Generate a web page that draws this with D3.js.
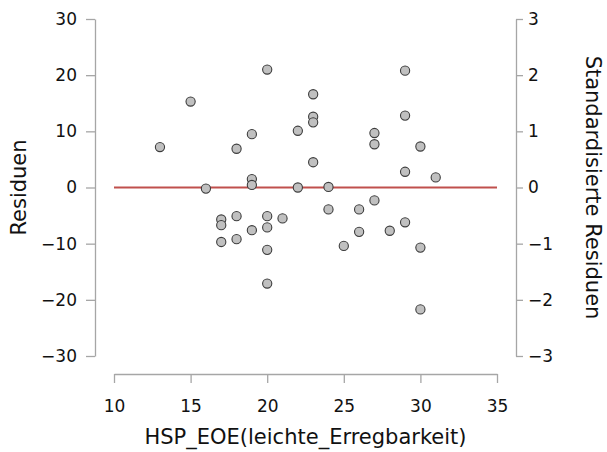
<!DOCTYPE html>
<html>
<head>
<meta charset="utf-8">
<script src="https://cdn.jsdelivr.net/npm/d3@7"></script>
<style>
  body { margin: 0; background: #fff; }
  text { font-family: "DejaVu Sans", sans-serif; fill: #111; }
</style>
</head>
<body>
<svg id="chart" width="607" height="452"></svg>
<script>
// data: x value (HSP_EOE) and residual
let xs = [13, 15, 16, 17, 17, 17, 18, 18, 18, 19, 19, 19, 19,
          20, 20, 20, 20, 20, 21, 22, 22, 23, 23, 23, 23, 24, 24,
          25, 26, 26, 27, 27, 27, 28, 29, 29, 29, 29, 30, 30, 30, 31];
let residuals = [7.2, 15.3, -0.2, -5.7, -6.7, -9.7, 6.9, -5.1, -9.2, 9.5, 1.5, 0.45, -7.6,
                 21.0, -5.1, -7.1, -11.1, -17.1, -5.5, 10.1, 0.0, 16.6, 12.6, 11.6, 4.5, 0.1, -3.9,
                 -10.4, -3.9, -7.9, 9.7, 7.7, -2.3, -7.7, 20.8, 12.8, 2.8, -6.2, 7.3, -10.7, -21.7, 1.8];
let xTicks = [10, 15, 20, 25, 30, 35];
let yTicks = [-30, -20, -10, 0, 10, 20, 30];
let zTicks = [-3, -2, -1, 0, 1, 2, 3];

// colors
let colorAxis = "#a6a6a6";
let colorRef = "#c0504d";
let colorPoint = "#c0c0c0";
let colorStroke = "#3c3c3c";

let svg = d3.select("#chart");

let x = d3.scaleLinear().domain([10, 35]).range([114, 497]);
let y = d3.scaleLinear().domain([-30, 30]).range([356, 19]);
let z = d3.scaleLinear().domain([-3, 3]).range([356, 19]);

let fmt = d => d < 0 ? "\u2212" + Math.abs(d) : "" + d;

// left axis
let yAxis = svg.append("g")
    .attr("transform", "translate(95,0)")
    .call(d3.axisLeft(y).tickValues(yTicks).tickFormat(fmt).tickSize(9).tickSizeOuter(0).tickPadding(9));

// right axis
let zAxis = svg.append("g")
    .attr("transform", "translate(516,0)")
    .call(d3.axisRight(z).tickValues(zTicks).tickFormat(fmt).tickSize(7).tickSizeOuter(0).tickPadding(5));

// bottom axis
let xAxis = svg.append("g")
    .attr("transform", "translate(0,374)")
    .call(d3.axisBottom(x).tickValues(xTicks).tickSize(9).tickSizeOuter(0).tickPadding(17));

[yAxis, zAxis, xAxis].forEach(function(g) {
    g.select(".domain").attr("stroke", colorAxis).attr("stroke-width", 1.3);
    g.selectAll(".tick line").attr("stroke", colorAxis).attr("stroke-width", 1.3);
    g.selectAll(".tick text")
        .style("font-family", "'DejaVu Sans', sans-serif")
        .style("font-size", "17px")
        .attr("fill", "#111");
});

// reference line at zero
svg.append("line")
    .attr("x1", x(10)).attr("x2", x(35))
    .attr("y1", y(0)).attr("y2", y(0))
    .attr("stroke", colorRef)
    .attr("stroke-width", 2);

// points
svg.append("g").selectAll("circle")
    .data(d3.range(xs.length))
    .enter()
    .append("circle")
    .attr("cx", i => x(xs[i]))
    .attr("cy", i => y(residuals[i]))
    .attr("r", 4.6)
    .attr("fill", colorPoint)
    .attr("stroke", colorStroke)
    .attr("stroke-width", 1.1);

// axis titles
svg.append("text")
    .attr("transform", "translate(26," + y(0) + ") rotate(-90)")
    .attr("text-anchor", "middle")
    .style("font-size", "21px")
    .text("Residuen");

svg.append("text")
    .attr("transform", "translate(586," + y(0) + ") rotate(90)")
    .attr("text-anchor", "middle")
    .style("font-size", "21px")
    .text("Standardisierte Residuen");

svg.append("text")
    .attr("x", (x(10) + x(35)) / 2)
    .attr("y", 444)
    .attr("text-anchor", "middle")
    .style("font-size", "21px")
    .text("HSP_EOE(leichte_Erregbarkeit)");
</script>
</body>
</html>
